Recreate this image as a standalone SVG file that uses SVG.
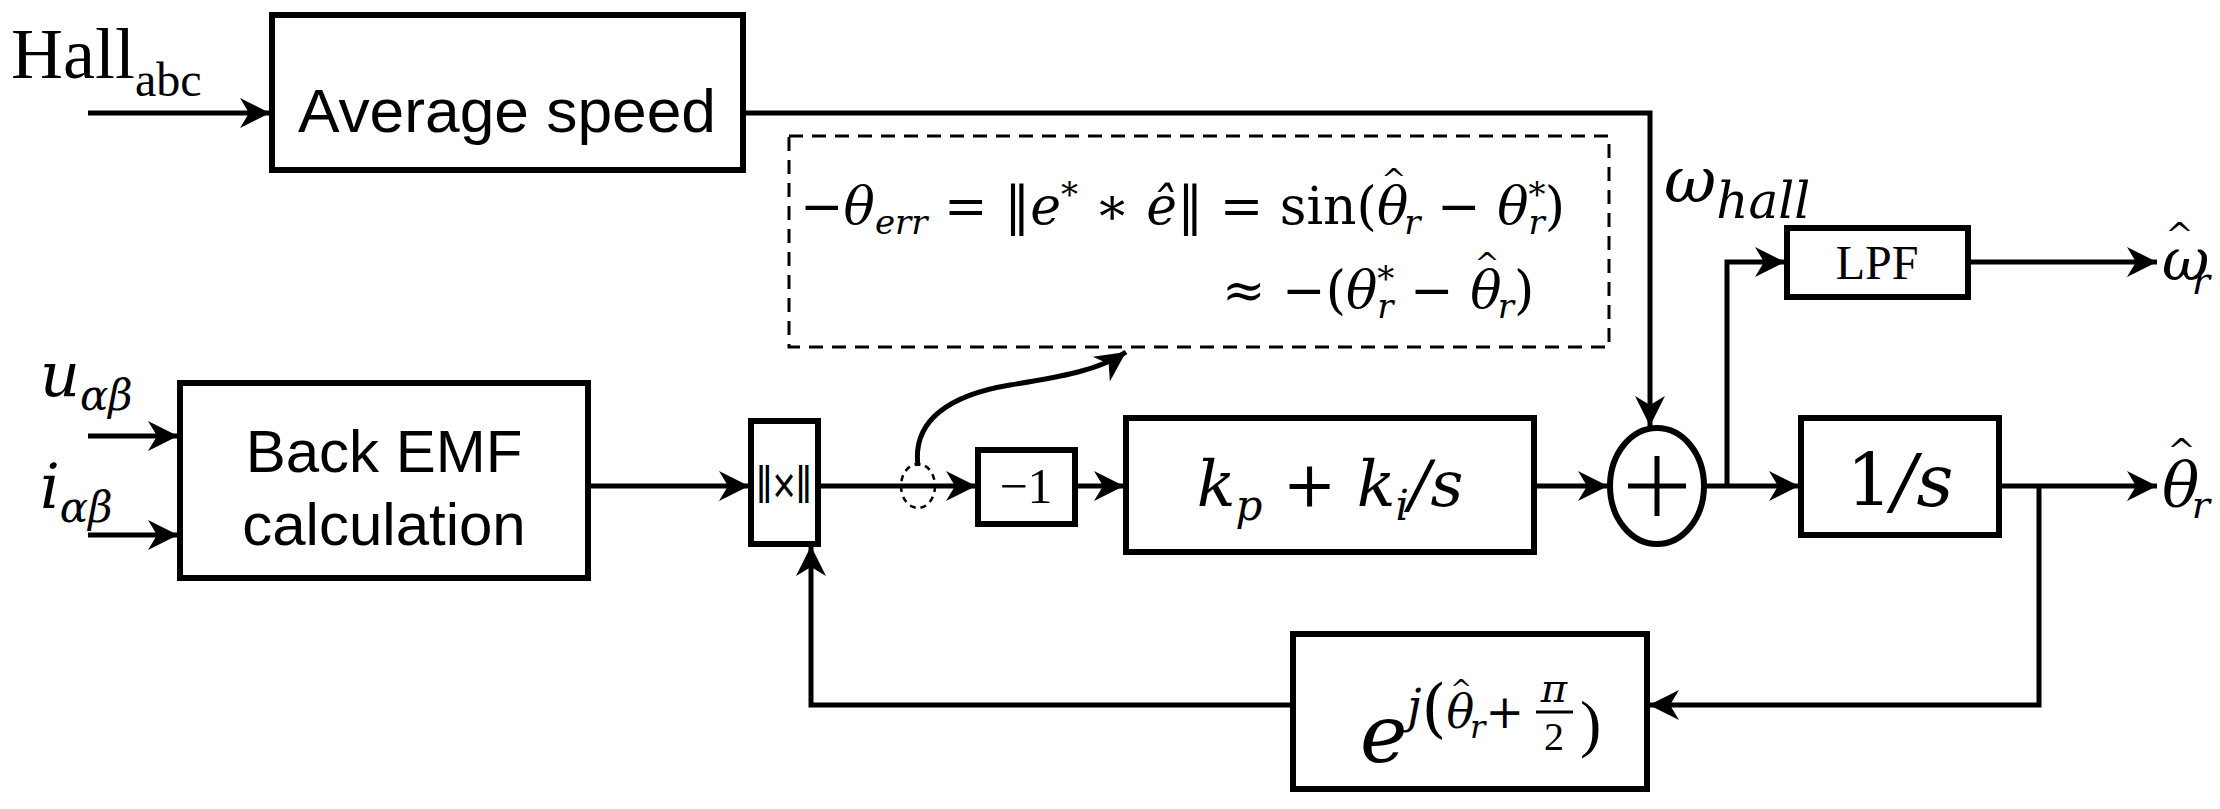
<svg xmlns="http://www.w3.org/2000/svg" width="2220" height="809" viewBox="0 0 2220 809">
<defs>
<marker id="ah" viewBox="0 0 10 10" refX="10" refY="5" markerWidth="7" markerHeight="6" markerUnits="strokeWidth" orient="auto"><path d="M0,0 L10,5 L0,10 L3,5 Z" fill="#000"/></marker>
<style>
.box{fill:#fff;stroke:#000;stroke-width:6}
.pl{fill:none;stroke:#000;stroke-width:5}
.sans{font-family:"Liberation Sans",Arial,sans-serif;fill:#000}
.ser{font-family:"Liberation Serif","Times New Roman",serif;fill:#000}
.math{font-family:"DejaVu Serif","Liberation Serif",serif;font-style:italic;fill:#000}
</style>
</defs>
<rect width="2220" height="809" fill="#fff"/>
<g id="connectors">
<line class="pl" x1="88" y1="113" x2="270" y2="113" marker-end="url(#ah)"/>
<polyline class="pl" points="743,113 1650,113 1650,426" marker-end="url(#ah)"/>
<line class="pl" x1="88" y1="436" x2="178" y2="436" marker-end="url(#ah)"/>
<line class="pl" x1="88" y1="535" x2="178" y2="535" marker-end="url(#ah)"/>
<line class="pl" x1="588" y1="486" x2="749" y2="486" marker-end="url(#ah)"/>
<line class="pl" x1="818" y1="486" x2="976" y2="486" marker-end="url(#ah)"/>
<line class="pl" x1="1076" y1="486" x2="1124" y2="486" marker-end="url(#ah)"/>
<line class="pl" x1="1534" y1="486" x2="1608" y2="486" marker-end="url(#ah)"/>
<line class="pl" x1="1705" y1="486" x2="1799" y2="486" marker-end="url(#ah)"/>
<polyline class="pl" points="1727,486 1727,262 1785,262" marker-end="url(#ah)"/>
<line class="pl" x1="1968" y1="262" x2="2157" y2="262" marker-end="url(#ah)"/>
<line class="pl" x1="1999" y1="486" x2="2157" y2="486" marker-end="url(#ah)"/>
<polyline class="pl" points="2039,486 2039,705 1649,705" marker-end="url(#ah)"/>
<polyline class="pl" points="1293,705 811,705 811,546" marker-end="url(#ah)"/>
<path class="pl" d="M918,466 C912,420 950,395 1010,385 C1060,377 1100,370 1126,352" marker-end="url(#ah)"/>
<ellipse cx="918" cy="486" rx="17" ry="22" fill="none" stroke="#000" stroke-width="2.5" stroke-dasharray="6,5"/>
</g>
<g id="hall-label"><text class="ser" x="11" y="78" font-size="72">Hall<tspan font-size="48" dy="18">abc</tspan></text></g>
<g id="avg-speed"><rect class="box" x="272" y="15" width="471" height="155"/><text class="sans" x="507" y="132" font-size="62" text-anchor="middle" textLength="418" lengthAdjust="spacingAndGlyphs">Average speed</text></g>
<g id="omega-hall"><text class="math" x="1664" y="202" font-size="64">ω<tspan font-size="50" dy="16">hall</tspan></text></g>
<g id="note"><rect x="789" y="136" width="820" height="211" fill="none" stroke="#000" stroke-width="3" stroke-dasharray="14,9"/>
<text class="math" x="800" y="224" font-size="52"><tspan font-style="normal">−</tspan>θ<tspan font-size="34" dy="10">err</tspan><tspan dy="-10" font-style="normal"> = ‖</tspan>e<tspan font-size="34" dy="-18">*</tspan><tspan dy="18" font-style="normal"> ∗ </tspan>ê<tspan font-style="normal">‖ = sin(</tspan>θ<tspan font-size="30" font-style="normal" dx="-27" dy="-34">^</tspan><tspan font-size="34" dx="-2" dy="44">r</tspan><tspan dy="-10" font-style="normal"> − </tspan>θ<tspan font-size="34" dy="-18">*</tspan><tspan font-size="34" dx="-17" dy="28">r</tspan><tspan dy="-10" font-style="normal">)</tspan></text>
<text class="math" x="1222" y="308" font-size="52"><tspan font-style="normal">≈ −(</tspan>θ<tspan font-size="34" dy="-18">*</tspan><tspan font-size="34" dx="-17" dy="28">r</tspan><tspan dy="-10" font-style="normal"> − </tspan>θ<tspan font-size="30" font-style="normal" dx="-27" dy="-34">^</tspan><tspan font-size="34" dx="-2" dy="44">r</tspan><tspan dy="-10" font-style="normal">)</tspan></text></g>
<g id="u-label"><text class="math" x="40" y="396" font-size="62">u<tspan font-size="42" dy="14">αβ</tspan></text></g>
<g id="i-label"><text class="math" x="40" y="508" font-size="62">i<tspan font-size="42" dy="14">αβ</tspan></text></g>
<g id="back-emf"><rect class="box" x="180" y="383" width="408" height="195"/><text class="sans" x="384" y="472" font-size="60" text-anchor="middle">Back EMF</text><text class="sans" x="384" y="545" font-size="60" text-anchor="middle">calculation</text></g>
<g id="cross"><rect class="box" x="751" y="421" width="67" height="123"/><text class="sans" x="784" y="503" font-size="52" text-anchor="middle" textLength="56" lengthAdjust="spacingAndGlyphs">‖×‖</text></g>
<g id="neg1"><rect class="box" x="978" y="450" width="97" height="74"/><text class="ser" x="1026" y="503" font-size="50" text-anchor="middle">−1</text></g>
<g id="pi"><rect class="box" x="1126" y="418" width="408" height="134"/><text class="math" x="1330" y="506" font-size="64" text-anchor="middle">k<tspan font-size="42" dy="14">p</tspan><tspan dy="-14" font-style="normal"> + </tspan>k<tspan font-size="42" dy="14">i</tspan><tspan dy="-14">/s</tspan></text></g>
<g id="sum"><ellipse cx="1657" cy="486" rx="47" ry="58" fill="#fff" stroke="#000" stroke-width="6"/><path d="M1628,486 H1686 M1657,456 V516" stroke="#000" stroke-width="5"/></g>
<g id="lpf"><rect class="box" x="1787" y="228" width="181" height="69"/><text class="ser" x="1877" y="279" font-size="48" text-anchor="middle">LPF</text></g>
<g id="omega-r"><text class="math" x="2162" y="280" font-size="58">ω<tspan font-size="34" font-style="normal" dx="-44" dy="-34">^</tspan><tspan font-size="38" dx="-2" dy="48">r</tspan></text></g>
<g id="integrator"><rect class="box" x="1801" y="418" width="198" height="117"/><text class="math" x="1900" y="506" font-size="72" text-anchor="middle"><tspan font-style="normal">1</tspan>/s</text></g>
<g id="theta-r"><text class="math" x="2162" y="506" font-size="62">θ<tspan font-size="34" font-style="normal" dx="-32" dy="-44">^</tspan><tspan font-size="38" dx="-4" dy="56">r</tspan></text></g>
<g id="exp"><rect class="box" x="1293" y="634" width="354" height="155"/><text class="math" x="1360" y="762" font-size="80">e<tspan font-size="46" dy="-40">j</tspan><tspan font-size="64" font-style="normal" dy="8">(</tspan><tspan font-size="46" dy="-2">θ</tspan><tspan font-size="26" font-style="normal" dx="-24" dy="-30">^</tspan><tspan font-size="32" dx="-2" dy="40">r</tspan><tspan font-size="46" font-style="normal" dy="-10">+</tspan></text>
<text class="math" x="1554" y="702" font-size="40" text-anchor="middle">π</text><line x1="1536" y1="712" x2="1573" y2="712" stroke="#000" stroke-width="3"/><text class="ser" x="1554" y="750" font-size="40" text-anchor="middle">2</text><text class="ser" x="1580" y="745" font-size="64">)</text></g>
</svg>
